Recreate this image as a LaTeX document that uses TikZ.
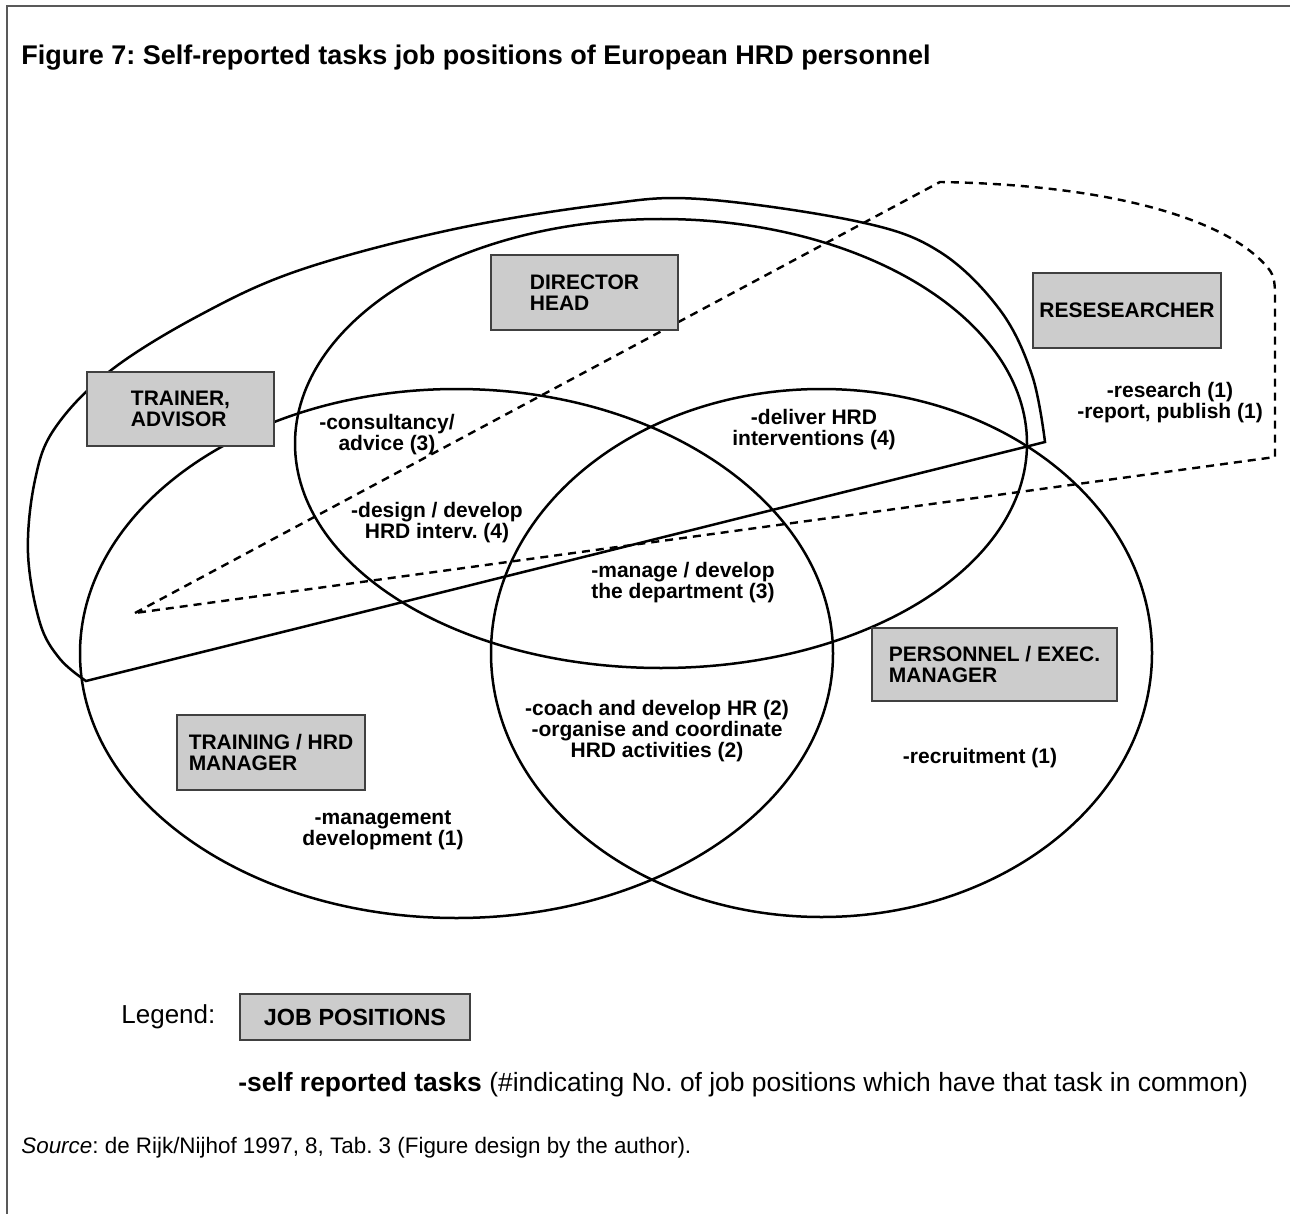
\documentclass[tikz,border=0pt]{standalone}
\usepackage{fontspec}
\setmainfont{Liberation Sans}
\usetikzlibrary{positioning}
\frenchspacing

\tikzset{
  jobbox/.style={draw=black!75, line width=0.6pt, fill=black!20, align=left,
    inner sep=0pt, font=\bfseries\fontsize{10.5}{10.5}\selectfont},
  task/.style={align=center, inner sep=0pt, font=\bfseries\fontsize{10.5}{10.5}\selectfont},
  plain/.style={anchor=west, inner sep=0pt},
  venn/.style={line width=1.25pt},
  hull/.style={line width=1.2pt, dash pattern=on 4pt off 3pt}
}

\begin{document}
\begin{tikzpicture}[x=0.5pt,y=-0.5pt]
\useasboundingbox (0,0) rectangle (1290,1214);
\draw[black!65, line width=0.7pt] (1290,6) -- (7,6) -- (7,1214);

\node[plain, font=\bfseries\fontsize{13.5}{16}\selectfont] (title) at (21,58)
  {Figure 7: Self-reported tasks job positions of European HRD personnel};

% job position sets
\draw[venn] (661,443.5) ellipse [x radius=366, y radius=224.5];
\draw[venn] (456.5,653.5) ellipse [x radius=376.5, y radius=264.5];
\draw[venn] (821.5,653) ellipse [x radius=330.5, y radius=264];
\coordinate (tlow) at (86,681);
\coordinate (thigh) at (1045,442);
\draw[venn] plot[smooth, tension=0.6] coordinates {(86,681) (60,659) (40,623) (28,553)
  (35,480) (55,428) (110,371) (200,315) (300,270) (450,230) (600,205) (700,199)
  (860,222) (940,252) (1000,310) (1032,375) (1045,442)} -- cycle;
\coordinate (apex) at (135,613);
\draw[hull] (apex) -- (940,182) .. controls (1120,185) and (1230,222) .. (1268,268)
  .. controls (1275,276) and (1275,285) .. (1275,300) -- (1275,457) -- cycle;

% job positions
\node[jobbox, minimum width=93.5pt, minimum height=37.5pt] (director) at (584.5,292.5) {DIRECTOR\\HEAD};
\node[jobbox, minimum width=94pt, minimum height=37.5pt] (researcher) at (1127,310.5) {RESESEARCHER};
\node[jobbox, minimum width=93.5pt, minimum height=37pt] (trainer) at (180.5,409) {TRAINER,\\ADVISOR};
\node[jobbox, minimum width=122.5pt, minimum height=36.5pt] (personnel) at (994.5,664.5) {PERSONNEL / EXEC.\\MANAGER};
\node[jobbox, minimum width=94pt, minimum height=37.5pt] (training) at (271,752.5) {TRAINING / HRD\\MANAGER};

% tasks
\node[task] (consult) at (387,435) {-consultancy/\\advice (3)};
\node[task] (design) at (437,523) {-design / develop\\HRD interv. (4)};
\node[task] (deliver) at (814,430) {-deliver HRD\\interventions (4)};
\node[task] (manage) at (683,583) {-manage / develop\\the department (3)};
\node[task] (coach) at (657,731) {-coach and develop HR (2)\\-organise and coordinate\\HRD activities (2)};
\node[task] (recruit) at (980,758) {-recruitment (1)};
\node[task] (mgmtdev) at (383,830) {-management\\development (1)};
\node[task] (research) at (1170,403) {-research (1)\\-report, publish (1)};

% legend
\node[plain, font=\fontsize{13}{15}\selectfont] (legend) at (121,1017) {Legend:};
\node[jobbox, align=center, minimum width=115pt, minimum height=23pt,
  font=\bfseries\fontsize{11.7}{13}\selectfont] (jobpos) at (355,1017) {JOB POSITIONS};
\node[plain, font=\fontsize{13.2}{15}\selectfont] (selftasks) at (238,1085)
  {\textbf{-self reported tasks} (\#indicating No. of job positions which have that task in common)};
\node[plain, font=\fontsize{11.2}{13}\selectfont] (source) at (21,1148)
  {\textit{Source}: de Rijk/Nijhof 1997, 8, Tab. 3 (Figure design by the author).};
\end{tikzpicture}
\end{document}
